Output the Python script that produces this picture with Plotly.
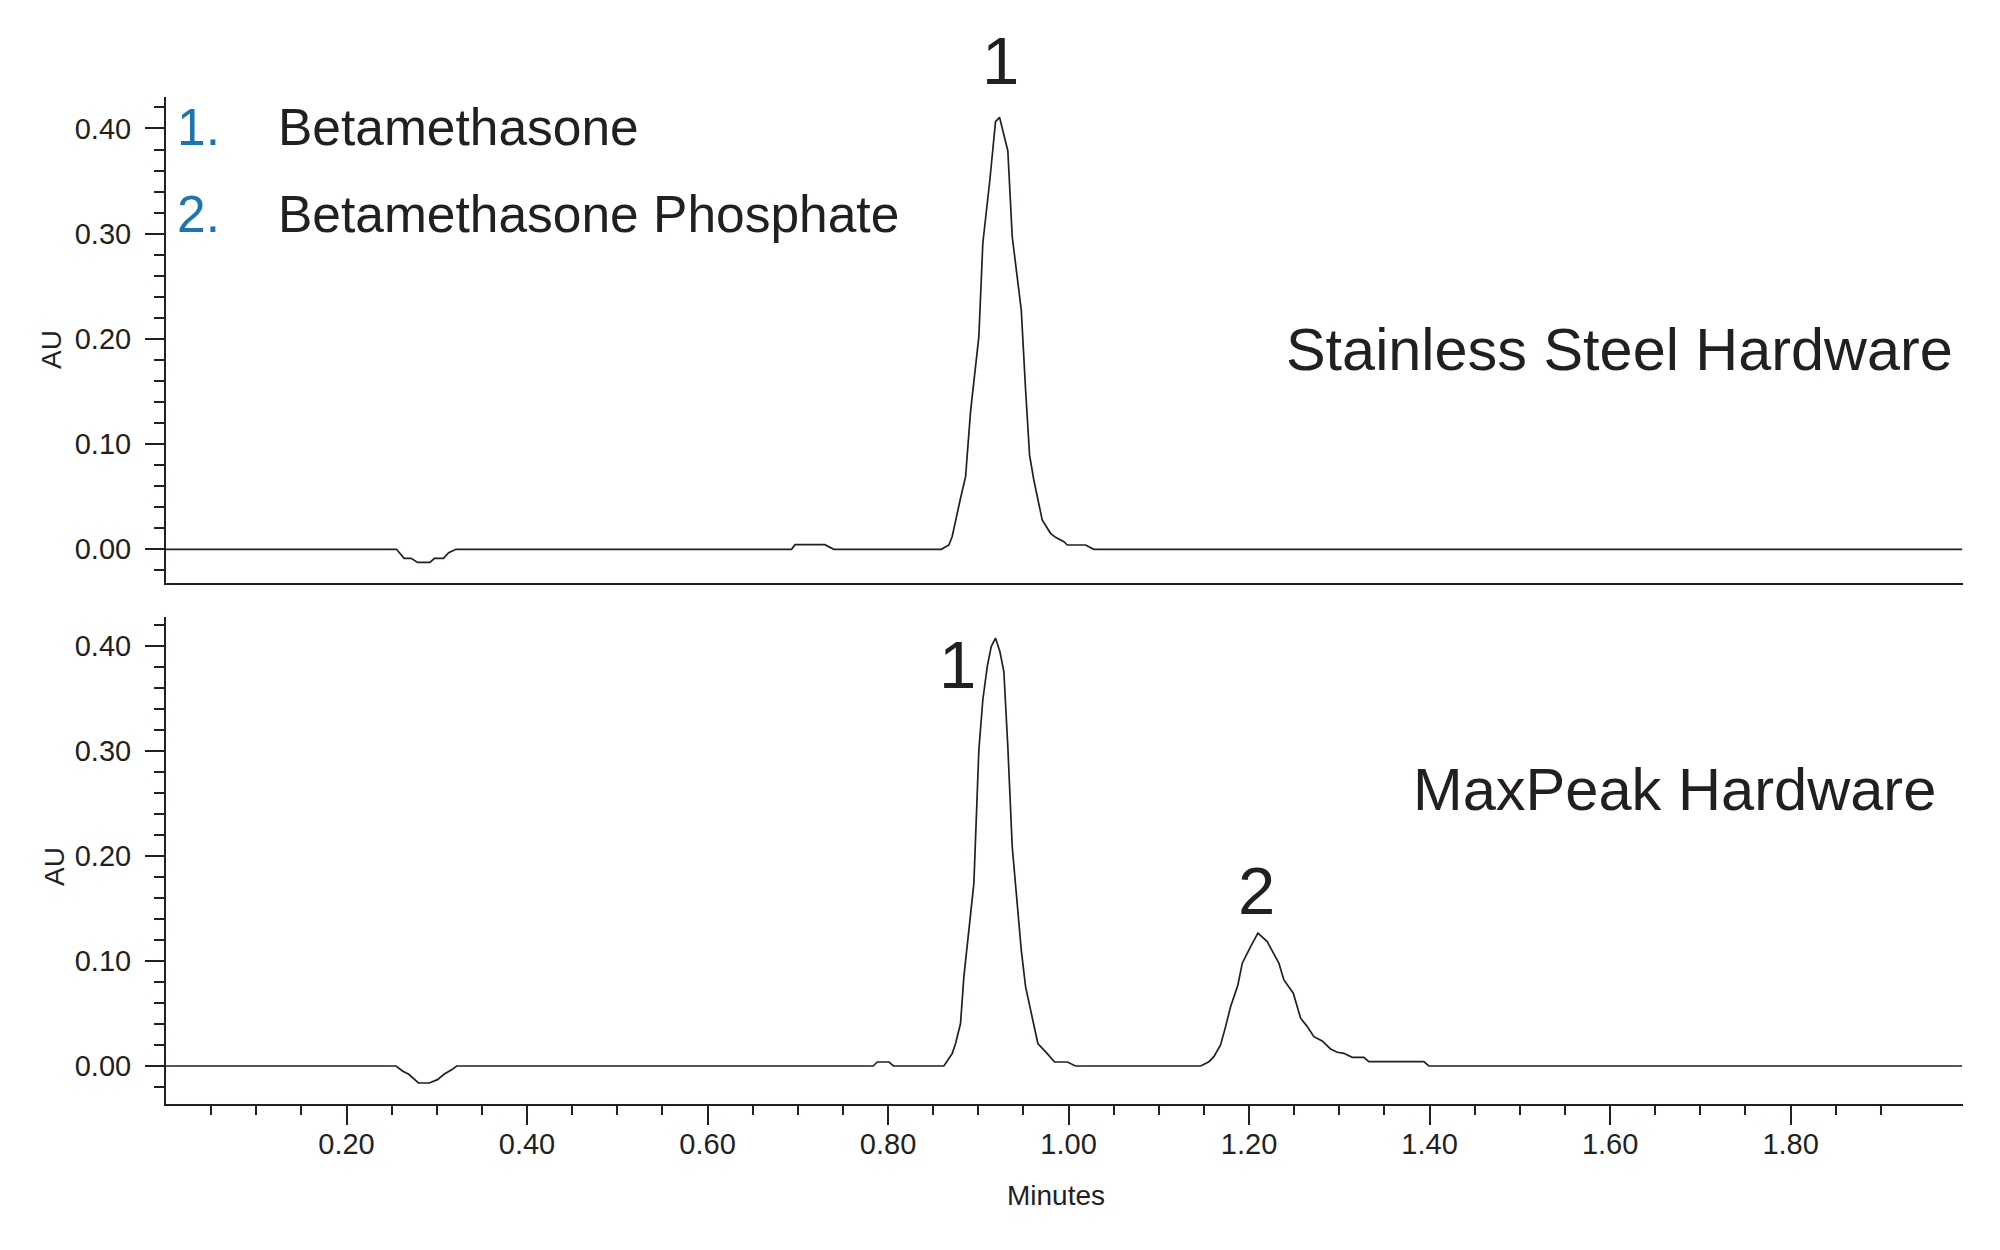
import plotly.graph_objects as go

# ---- data ----
ss_minutes = [0.0, 0.2554, 0.2638, 0.2717, 0.2787, 0.2925, 0.2974, 0.3074, 0.3132, 0.3212,
              0.693, 0.697, 0.730, 0.740, 0.859, 0.8674, 0.871, 0.8748, 0.8803, 0.8859,
              0.8914, 0.9006, 0.905, 0.9128, 0.9191, 0.9235, 0.9283, 0.9327, 0.9376, 0.9431,
              0.9476, 0.9524, 0.9568, 0.9615, 0.9708, 0.98, 0.9856, 0.9948, 0.9986, 1.0188,
              1.028, 1.99]
ss_au = [0, 0, -0.0086, -0.0086, -0.0124, -0.0124, -0.0086, -0.0086, -0.0032, 0,
         0, 0.0044, 0.0044, 0, 0, 0.0041, 0.012, 0.0279, 0.0485, 0.069,
         0.1308, 0.2021, 0.2909, 0.351, 0.4065, 0.4106, 0.3954, 0.3789, 0.2971, 0.256,
         0.2275, 0.1514, 0.0896, 0.0659, 0.0279, 0.0152, 0.0114, 0.0072, 0.0041, 0.0041,
         0, 0]

mp_minutes = [0.0, 0.2549, 0.262, 0.269, 0.2797, 0.2917, 0.3008, 0.308, 0.317, 0.322,
              0.7835, 0.788, 0.801, 0.806, 0.8618, 0.8711, 0.8748, 0.8803, 0.884, 0.8895,
              0.8951, 0.9006, 0.905, 0.9099, 0.9143, 0.9191, 0.9239, 0.9283, 0.9327, 0.9376,
              0.9431, 0.9476, 0.9524, 0.9579, 0.966, 0.9764, 0.9845, 0.9986, 1.0078, 1.1463,
              1.1555, 1.161, 1.1684, 1.174, 1.1795, 1.1876, 1.1925, 1.2017, 1.2098, 1.2201,
              1.233, 1.2386, 1.249, 1.2571, 1.2645, 1.2718, 1.281, 1.2903, 1.2977, 1.305,
              1.3143, 1.3272, 1.3327, 1.3937, 1.3992, 1.99]
mp_au = [0, 0, -0.0048, -0.0079, -0.0162, -0.0162, -0.013, -0.0079, -0.0034, 0,
         0, 0.0038, 0.0038, 0, 0, 0.0118, 0.0214, 0.0404, 0.0848, 0.1325,
         0.1739, 0.301, 0.3486, 0.3804, 0.3994, 0.4074, 0.3947, 0.3756, 0.3041, 0.2088,
         0.1548, 0.1103, 0.0753, 0.0531, 0.0214, 0.0118, 0.0038, 0.0038, 0, 0,
         0.0041, 0.0089, 0.02, 0.0375, 0.0565, 0.0772, 0.0979, 0.1137, 0.1265, 0.1185,
         0.0979, 0.082, 0.0693, 0.0455, 0.0375, 0.0279, 0.0238, 0.0162, 0.0131, 0.0121,
         0.0083, 0.0083, 0.0041, 0.0041, 0, 0]

y_ticks = [0.0, 0.1, 0.2, 0.3, 0.4]
y_ticklabels = ["0.00", "0.10", "0.20", "0.30", "0.40"]
x_ticks = [0.2, 0.4, 0.6, 0.8, 1.0, 1.2, 1.4, 1.6, 1.8]
x_ticklabels = ["0.20", "0.40", "0.60", "0.80", "1.00", "1.20", "1.40", "1.60", "1.80"]
x_minor = [round(0.05 * i, 2) for i in range(1, 39)]

compounds = ["Betamethasone", "Betamethasone Phosphate"]
panel_titles = ["Stainless Steel Hardware", "MaxPeak Hardware"]

# ---- style ----
INK = "#231f20"
BLUE = "#1b75b1"
FONT = "Liberation Sans, Arial, sans-serif"
W, H = 2000, 1250

def px(x):
    return x / W

def py(y):
    return 1 - y / H

fig = go.Figure()
fig.add_trace(go.Scatter(x=ss_minutes, y=ss_au, mode="lines", xaxis="x", yaxis="y",
                         line=dict(color=INK, width=1.7), showlegend=False, hoverinfo="skip"))
fig.add_trace(go.Scatter(x=mp_minutes, y=mp_au, mode="lines", xaxis="x2", yaxis="y2",
                         line=dict(color=INK, width=1.7), showlegend=False, hoverinfo="skip"))

xdom = [166 / W, 1963 / W]
xrange_ = [0.0, 1.991]

yax_common = dict(
    tickmode="array", tickvals=y_ticks, ticktext=y_ticklabels,
    ticks="outside", ticklen=19, tickwidth=2, tickcolor=INK,
    minor=dict(dtick=0.02, tick0=0, ticks="outside", ticklen=10, tickwidth=2, tickcolor=INK),
    showline=True, linewidth=2, linecolor=INK, showgrid=False, zeroline=False,
    tickfont=dict(family=FONT, size=29, color=INK), ticklabelstandoff=8,
    automargin=False, fixedrange=True,
)

fig.update_layout(
    width=W, height=H,
    margin=dict(l=0, r=0, t=0, b=0),
    paper_bgcolor="white", plot_bgcolor="white",
    xaxis=dict(domain=xdom, range=xrange_, anchor="y", showline=True, linewidth=2,
               linecolor=INK, ticks="", showticklabels=False, showgrid=False,
               zeroline=False, automargin=False),
    yaxis=dict(domain=[py(583.3), py(96.7)], range=[-0.0323, 0.4302], anchor="x", **yax_common),
    xaxis2=dict(domain=xdom, range=xrange_, anchor="y2",
                tickmode="array", tickvals=x_ticks, ticktext=x_ticklabels,
                ticks="outside", ticklen=19, tickwidth=2, tickcolor=INK,
                minor=dict(tickmode="array", tickvals=x_minor, ticks="outside",
                           ticklen=9, tickwidth=2, tickcolor=INK),
                showline=True, linewidth=2, linecolor=INK, showgrid=False, zeroline=False,
                tickfont=dict(family=FONT, size=29, color=INK), ticklabelstandoff=-6,
                automargin=False),
    yaxis2=dict(domain=[py(1104), py(616.6)], range=[-0.0362, 0.428], anchor="x2", **yax_common),
)

ann = []
def text(x, y, s, size, color=INK, xanchor="center", textangle=0):
    ann.append(dict(x=px(x), y=py(y), xref="paper", yref="paper", text=s, showarrow=False,
                    xanchor=xanchor, yanchor="middle", textangle=textangle,
                    borderpad=0, borderwidth=0,
                    font=dict(family=FONT, size=size, color=color)))

# legend list
text(176.5, 126.7, "1.", 51.5, BLUE, "left")
text(176.5, 213.8, "2.", 51.5, BLUE, "left")
text(278, 126.7, compounds[0], 51.5, INK, "left")
text(278, 213.8, compounds[1], 51.5, INK, "left")
# panel titles
text(1953.4, 349.2, panel_titles[0], 59.4, INK, "right")
text(1936, 789.5, panel_titles[1], 59.6, INK, "right")
# peak labels
text(1000.5, 60.8, "1", 67)
text(957.5, 664.2, "1", 67)
text(1256.3, 890.8, "2", 67)
# axis titles
text(51, 350, "AU", 28, INK, "center", -90)
text(54, 867, "AU", 28, INK, "center", -90)
text(1055.6, 1195.7, "Minutes", 28)

fig.update_layout(annotations=ann)
fig.write_html("out.html")
